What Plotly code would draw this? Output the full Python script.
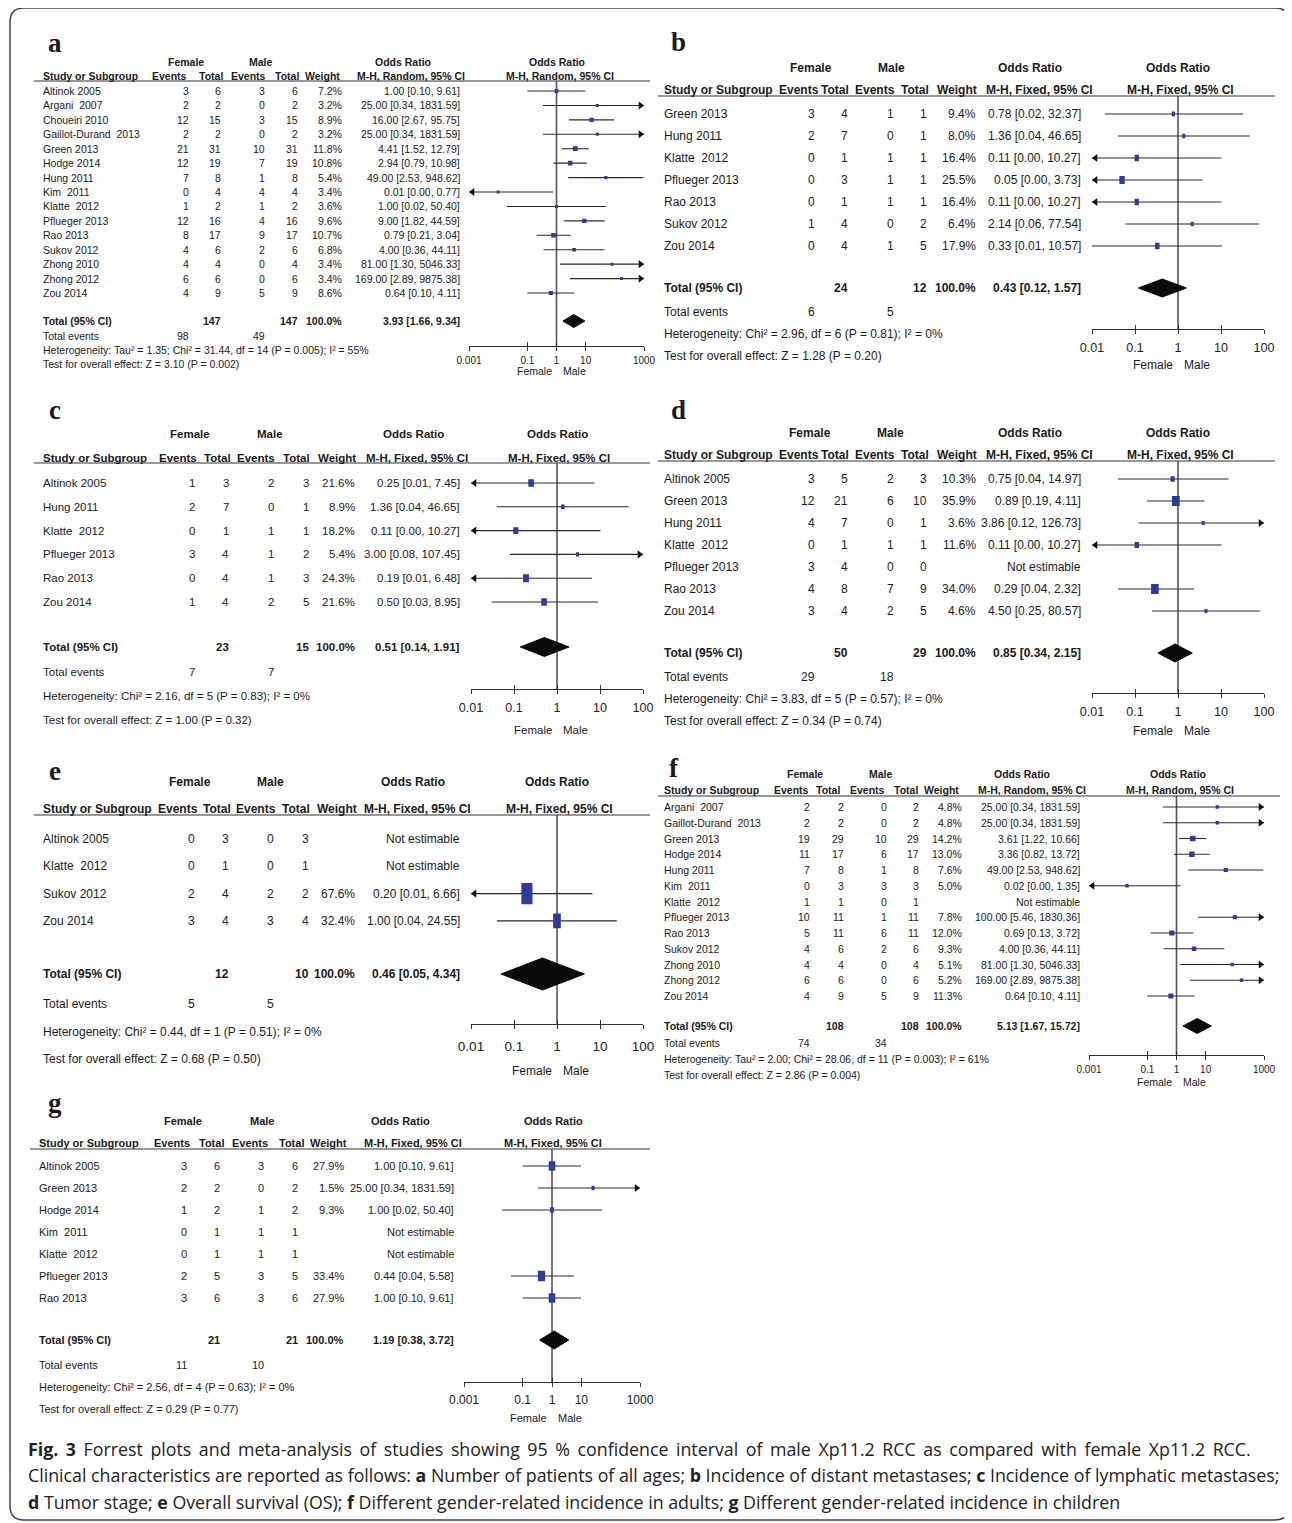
import plotly.graph_objects as go

W, H = 1292, 1523
OFF = 8                      # page body margin of the html page
WF, HF = W - OFF, H - OFF    # figure size so that it ends at the window edge
TEXT = "#1a1a1a"
BLUE = "#2e3a9e"
LINE = "#333333"
ARIAL = "Liberation Sans, Arial, sans-serif"
SERIF = "Liberation Serif, DejaVu Serif, serif"
CAPFONT = "Open Sans, Noto Sans, sans-serif"
NULL_OR = 1.0

# ---------------- data: panel a ----------------
A_STUDY = ["Altinok 2005", "Argani  2007", "Choueiri 2010", "Gaillot-Durand  2013", "Green 2013",
           "Hodge 2014", "Hung 2011", "Kim  2011", "Klatte  2012", "Pflueger 2013", "Rao 2013",
           "Sukov 2012", "Zhong 2010", "Zhong 2012", "Zou 2014"]
A_FE = [3, 2, 12, 2, 21, 12, 7, 0, 1, 12, 8, 4, 4, 6, 4]
A_FT = [6, 2, 15, 2, 31, 19, 8, 4, 2, 16, 17, 6, 4, 6, 9]
A_ME = [3, 0, 3, 0, 10, 7, 1, 4, 1, 4, 9, 2, 0, 0, 5]
A_MT = [6, 2, 15, 2, 31, 19, 8, 4, 2, 16, 17, 6, 4, 6, 9]
A_W = [7.2, 3.2, 8.9, 3.2, 11.8, 10.8, 5.4, 3.4, 3.6, 9.6, 10.7, 6.8, 3.4, 3.4, 8.6]
A_OR = [1.00, 25.00, 16.00, 25.00, 4.41, 2.94, 49.00, 0.01, 1.00, 9.00, 0.79, 4.00, 81.00, 169.00, 0.64]
A_LO = [0.10, 0.34, 2.67, 0.34, 1.52, 0.79, 2.53, 0.0004, 0.02, 1.82, 0.21, 0.36, 1.30, 2.89, 0.10]
A_HI = [9.61, 1831.59, 95.75, 1831.59, 12.79, 10.98, 948.62, 0.77, 50.40, 44.59, 3.04, 44.11, 5046.33, 9875.38, 4.11]
A_TOTAL = [147, 147]
A_EVENTS = [98, 49]
A_POOLED = [3.93, 1.66, 9.34]
A_HET = "Heterogeneity: Tau² = 1.35; Chi² = 31.44, df = 14 (P = 0.005); I² = 55%"
A_TEST = "Test for overall effect: Z = 3.10 (P = 0.002)"

# ---------------- data: panel b ----------------
B_STUDY = ["Green 2013", "Hung 2011", "Klatte  2012", "Pflueger 2013", "Rao 2013", "Sukov 2012", "Zou 2014"]
B_FE = [3, 2, 0, 0, 0, 1, 0]
B_FT = [4, 7, 1, 3, 1, 4, 4]
B_ME = [1, 0, 1, 1, 1, 0, 1]
B_MT = [1, 1, 1, 1, 1, 2, 5]
B_W = [9.4, 8.0, 16.4, 25.5, 16.4, 6.4, 17.9]
B_OR = [0.78, 1.36, 0.11, 0.05, 0.11, 2.14, 0.33]
B_LO = [0.02, 0.04, 0.004, 0.002, 0.004, 0.06, 0.01]
B_HI = [32.37, 46.65, 10.27, 3.73, 10.27, 77.54, 10.57]
B_TOTAL = [24, 12]
B_EVENTS = [6, 5]
B_POOLED = [0.43, 0.12, 1.57]
B_HET = "Heterogeneity: Chi² = 2.96, df = 6 (P = 0.81); I² = 0%"
B_TEST = "Test for overall effect: Z = 1.28 (P = 0.20)"

# ---------------- data: panel c ----------------
C_STUDY = ["Altinok 2005", "Hung 2011", "Klatte  2012", "Pflueger 2013", "Rao 2013", "Zou 2014"]
C_FE = [1, 2, 0, 3, 0, 1]
C_FT = [3, 7, 1, 4, 4, 4]
C_ME = [2, 0, 1, 1, 1, 2]
C_MT = [3, 1, 1, 2, 3, 5]
C_W = [21.6, 8.9, 18.2, 5.4, 24.3, 21.6]
C_OR = [0.25, 1.36, 0.11, 3.00, 0.19, 0.50]
C_LO = [0.0084, 0.04, 0.004, 0.08, 0.0065, 0.03]
C_HI = [7.45, 46.65, 10.27, 107.45, 6.48, 8.95]
C_TOTAL = [23, 15]
C_EVENTS = [7, 7]
C_POOLED = [0.51, 0.14, 1.91]
C_HET = "Heterogeneity: Chi² = 2.16, df = 5 (P = 0.83); I² = 0%"
C_TEST = "Test for overall effect: Z = 1.00 (P = 0.32)"

# ---------------- data: panel d ----------------
D_STUDY = ["Altinok 2005", "Green 2013", "Hung 2011", "Klatte  2012", "Pflueger 2013", "Rao 2013", "Zou 2014"]
D_FE = [3, 12, 4, 0, 3, 4, 3]
D_FT = [5, 21, 7, 1, 4, 8, 4]
D_ME = [2, 6, 0, 1, 0, 7, 2]
D_MT = [3, 10, 1, 1, 0, 9, 5]
D_W = [10.3, 35.9, 3.6, 11.6, None, 34.0, 4.6]
D_OR = [0.75, 0.89, 3.86, 0.11, None, 0.29, 4.50]
D_LO = [0.04, 0.19, 0.12, 0.004, None, 0.04, 0.25]
D_HI = [14.97, 4.11, 126.73, 10.27, None, 2.32, 80.57]
D_TOTAL = [50, 29]
D_EVENTS = [29, 18]
D_POOLED = [0.85, 0.34, 2.15]
D_HET = "Heterogeneity: Chi² = 3.83, df = 5 (P = 0.57); I² = 0%"
D_TEST = "Test for overall effect: Z = 0.34 (P = 0.74)"

# ---------------- data: panel e ----------------
E_STUDY = ["Altinok 2005", "Klatte  2012", "Sukov 2012", "Zou 2014"]
E_FE = [0, 0, 2, 3]
E_FT = [3, 1, 4, 4]
E_ME = [0, 0, 2, 3]
E_MT = [3, 1, 2, 4]
E_W = [None, None, 67.6, 32.4]
E_OR = [None, None, 0.20, 1.00]
E_LO = [None, None, 0.006, 0.04]
E_HI = [None, None, 6.66, 24.55]
E_TOTAL = [12, 10]
E_EVENTS = [5, 5]
E_POOLED = [0.46, 0.05, 4.34]
E_HET = "Heterogeneity: Chi² = 0.44, df = 1 (P = 0.51); I² = 0%"
E_TEST = "Test for overall effect: Z = 0.68 (P = 0.50)"

# ---------------- data: panel f ----------------
F_STUDY = ["Argani  2007", "Gaillot-Durand  2013", "Green 2013", "Hodge 2014", "Hung 2011", "Kim  2011",
           "Klatte  2012", "Pflueger 2013", "Rao 2013", "Sukov 2012", "Zhong 2010", "Zhong 2012", "Zou 2014"]
F_FE = [2, 2, 19, 11, 7, 0, 1, 10, 5, 4, 4, 6, 4]
F_FT = [2, 2, 29, 17, 8, 3, 1, 11, 11, 6, 4, 6, 9]
F_ME = [0, 0, 10, 6, 1, 3, 0, 1, 6, 2, 0, 0, 5]
F_MT = [2, 2, 29, 17, 8, 3, 1, 11, 11, 6, 4, 6, 9]
F_W = [4.8, 4.8, 14.2, 13.0, 7.6, 5.0, None, 7.8, 12.0, 9.3, 5.1, 5.2, 11.3]
F_OR = [25.00, 25.00, 3.61, 3.36, 49.00, 0.02, None, 100.00, 0.69, 4.00, 81.00, 169.00, 0.64]
F_LO = [0.34, 0.34, 1.22, 0.82, 2.53, 0.0003, None, 5.46, 0.13, 0.36, 1.30, 2.89, 0.10]
F_HI = [1831.59, 1831.59, 10.66, 13.72, 948.62, 1.35, None, 1830.36, 3.72, 44.11, 5046.33, 9875.38, 4.11]
F_TOTAL = [108, 108]
F_EVENTS = [74, 34]
F_POOLED = [5.13, 1.67, 15.72]
F_HET = "Heterogeneity: Tau² = 2.00; Chi² = 28.06, df = 11 (P = 0.003); I² = 61%"
F_TEST = "Test for overall effect: Z = 2.86 (P = 0.004)"

# ---------------- data: panel g ----------------
G_STUDY = ["Altinok 2005", "Green 2013", "Hodge 2014", "Kim  2011", "Klatte  2012", "Pflueger 2013", "Rao 2013"]
G_FE = [3, 2, 1, 0, 0, 2, 3]
G_FT = [6, 2, 2, 1, 1, 5, 6]
G_ME = [3, 0, 1, 1, 1, 3, 3]
G_MT = [6, 2, 2, 1, 1, 5, 6]
G_W = [27.9, 1.5, 9.3, None, None, 33.4, 27.9]
G_OR = [1.00, 25.00, 1.00, None, None, 0.44, 1.00]
G_LO = [0.10, 0.34, 0.02, None, None, 0.04, 0.10]
G_HI = [9.61, 1831.59, 50.40, None, None, 5.58, 9.61]
G_TOTAL = [21, 21]
G_EVENTS = [11, 10]
G_POOLED = [1.19, 0.38, 3.72]
G_HET = "Heterogeneity: Chi² = 2.56, df = 4 (P = 0.63); I² = 0%"
G_TEST = "Test for overall effect: Z = 0.29 (P = 0.77)"

TICKS_3 = [0.001, 0.1, 1, 10, 1000]
TICKTEXT_3 = ["0.001", "0.1", "1", "10", "1000"]
TICKS_2 = [0.01, 0.1, 1, 10, 100]
TICKTEXT_2 = ["0.01", "0.1", "1", "10", "100"]

CAPTION = [
    "<b>Fig. 3</b> Forrest plots and meta-analysis of studies showing 95 % confidence interval of male Xp11.2 RCC as compared with female Xp11.2 RCC.",
    "Clinical characteristics are reported as follows: <b>a</b> Number of patients of all ages; <b>b</b> Incidence of distant metastases; <b>c</b> Incidence of lymphatic metastases;",
    "<b>d</b> Tumor stage; <b>e</b> Overall survival (OS); <b>f</b> Different gender-related incidence in adults; <b>g</b> Different gender-related incidence in children",
]
CAPTION_JUSTIFY = [True, False, False]   # first line is justified (wider word gaps) in the reference


def pack(study, fe, ft, me, mt, w, orr, lo, hi, total, events, pooled, het, test):
    return dict(study=study, fe=fe, ft=ft, me=me, mt=mt, w=w, orr=orr, lo=lo, hi=hi,
                total=total, events=events, pooled=pooled, het=het, test=test)


DATA = {
    "a": pack(A_STUDY, A_FE, A_FT, A_ME, A_MT, A_W, A_OR, A_LO, A_HI, A_TOTAL, A_EVENTS, A_POOLED, A_HET, A_TEST),
    "b": pack(B_STUDY, B_FE, B_FT, B_ME, B_MT, B_W, B_OR, B_LO, B_HI, B_TOTAL, B_EVENTS, B_POOLED, B_HET, B_TEST),
    "c": pack(C_STUDY, C_FE, C_FT, C_ME, C_MT, C_W, C_OR, C_LO, C_HI, C_TOTAL, C_EVENTS, C_POOLED, C_HET, C_TEST),
    "d": pack(D_STUDY, D_FE, D_FT, D_ME, D_MT, D_W, D_OR, D_LO, D_HI, D_TOTAL, D_EVENTS, D_POOLED, D_HET, D_TEST),
    "e": pack(E_STUDY, E_FE, E_FT, E_ME, E_MT, E_W, E_OR, E_LO, E_HI, E_TOTAL, E_EVENTS, E_POOLED, E_HET, E_TEST),
    "f": pack(F_STUDY, F_FE, F_FT, F_ME, F_MT, F_W, F_OR, F_LO, F_HI, F_TOTAL, F_EVENTS, F_POOLED, F_HET, F_TEST),
    "g": pack(G_STUDY, G_FE, G_FT, G_ME, G_MT, G_W, G_OR, G_LO, G_HI, G_TOTAL, G_EVENTS, G_POOLED, G_HET, G_TEST),
}

# ---------------- layout (pixel positions in the reference picture) ----------------
LAYOUTS = [
    dict(key="a", label_xy=(55, 43), size=10.5, left=42, rule_x=(34, 650), rule_y=81, hy1=62, hy2=76,
         h1=[186, 261, 403, 557], h2=[170, 211, 248, 287, 322, 411, 560], cols=[190, 222, 266, 299, 343, 461],
         row0=91, step=14.43, total_y=321, events_y=336, het_y=350, test_y=364,
         gx=(469, 644), rng=(-3, 3), axis_y=346, tickvals=TICKS_3, ticktext=TICKTEXT_3, tick_size=10, fm_y=371,
         sq_k=1.4, sq_aspect=1.0, sq_min=3, dia_h=13, method="M-H, Random, 95% CI", standoff=1),
    dict(key="b", label_xy=(678, 42), size=12, left=663, rule_x=(658, 1275), rule_y=96, hy1=68, hy2=90,
         h1=[811, 891, 1030, 1178], h2=[799, 835, 875, 915, 957, 1039, 1180], cols=[816, 849, 895, 928, 977, 1082],
         row0=114, step=22, total_y=288, events_y=312, het_y=334, test_y=356,
         gx=(1092, 1264), rng=(-2, 2), axis_y=329, tickvals=TICKS_2, ticktext=TICKTEXT_2, tick_size=12.5, fm_y=365,
         sq_k=1.05, sq_aspect=1.5, sq_min=3, dia_h=18, method="M-H, Fixed, 95% CI", standoff=3),
    dict(key="c", label_xy=(55, 410), size=11.5, left=42, rule_x=(34, 650), rule_y=463, hy1=434, hy2=458,
         h1=[190, 270, 413, 557], h2=[178, 217, 256, 296, 337, 417, 559], cols=[196, 230, 275, 310, 356, 461],
         row0=483, step=23.8, total_y=647, events_y=672, het_y=696, test_y=720,
         gx=(471, 643), rng=(-2, 2), axis_y=689, tickvals=TICKS_2, ticktext=TICKTEXT_2, tick_size=12.5, fm_y=730,
         sq_k=1.2, sq_aspect=1.35, sq_min=3, dia_h=19, method="M-H, Fixed, 95% CI", standoff=3),
    dict(key="d", label_xy=(678, 410), size=12, left=663, rule_x=(658, 1275), rule_y=461, hy1=433, hy2=455,
         h1=[810, 890, 1030, 1178], h2=[799, 835, 875, 915, 957, 1039, 1180], cols=[816, 849, 895, 928, 977, 1082],
         row0=479, step=22, total_y=653, events_y=677, het_y=699, test_y=721,
         gx=(1092, 1264), rng=(-2, 2), axis_y=693, tickvals=TICKS_2, ticktext=TICKTEXT_2, tick_size=12.5, fm_y=731,
         sq_k=1.3, sq_aspect=1.3, sq_min=3, dia_h=18, method="M-H, Fixed, 95% CI", standoff=3),
    dict(key="e", label_xy=(55, 771), size=12, left=42, rule_x=(34, 650), rule_y=815, hy1=782, hy2=809,
         h1=[190, 270, 413, 557], h2=[178, 217, 256, 296, 337, 417, 559], cols=[196, 230, 275, 310, 356, 461],
         row0=839, step=27.3, total_y=974, events_y=1004, het_y=1032, test_y=1059,
         gx=(471, 643), rng=(-2, 2), axis_y=1024, tickvals=TICKS_2, ticktext=TICKTEXT_2, tick_size=13.5, fm_y=1071,
         sq_k=1.35, sq_aspect=1.9, sq_min=3, dia_h=32, method="M-H, Fixed, 95% CI", standoff=6),
    dict(key="f", label_xy=(674, 768), size=10.5, left=663, rule_x=(658, 1280), rule_y=796, hy1=774, hy2=790,
         h1=[805, 881, 1022, 1178], h2=[791, 828, 867, 906, 941, 1032, 1180], cols=[811, 845, 888, 920, 963, 1081],
         row0=807, step=15.75, total_y=1026, events_y=1043, het_y=1059, test_y=1075,
         gx=(1089, 1264), rng=(-3, 3), axis_y=1055, tickvals=TICKS_3, ticktext=TICKTEXT_3, tick_size=10, fm_y=1082,
         sq_k=1.5, sq_aspect=1.0, sq_min=3, dia_h=15, method="M-H, Random, 95% CI", standoff=1),
    dict(key="g", label_xy=(55, 1103), size=11, left=38, rule_x=(30, 650), rule_y=1149, hy1=1121, hy2=1143,
         h1=[183, 262, 400, 553], h2=[172, 211, 250, 291, 328, 413, 553], cols=[188, 221, 265, 299, 345, 455],
         row0=1166, step=22, total_y=1340, events_y=1365, het_y=1387, test_y=1409,
         gx=(464, 640), rng=(-3, 3), axis_y=1382, tickvals=TICKS_3, ticktext=TICKTEXT_3, tick_size=12, fm_y=1418,
         sq_k=1.25, sq_aspect=1.45, sq_min=3, dia_h=18, method="M-H, Fixed, 95% CI", standoff=2),
]


def fx(x):
    return (x - OFF) / WF


def fy(y):
    return 1 - (y - OFF) / HF


fig = go.Figure()
annotations = []
shapes = []
axes = {}


def text(x, y, s, family, size, anchor="left", color=TEXT):
    annotations.append(dict(x=fx(x), y=fy(y), xref="paper", yref="paper", text=s, showarrow=False,
                            xanchor=anchor, yanchor="middle", borderpad=0,
                            font=dict(family=family, size=size, color=color)))


def fmt_ci(o, l, h):
    return f"{o:.2f} [{l:.2f}, {h:.2f}]"


def add_panel(n, L):
    d = DATA[L["key"]]
    xs = "x" if n == 1 else f"x{n}"
    ys = "y" if n == 1 else f"y{n}"
    xk = "xaxis" if n == 1 else f"xaxis{n}"
    yk = "yaxis" if n == 1 else f"yaxis{n}"
    fam, fs = ARIAL, L["size"]
    lo_lim, hi_lim = 10 ** L["rng"][0], 10 ** L["rng"][1]
    ppd = (L["gx"][1] - L["gx"][0]) / (L["rng"][1] - L["rng"][0])
    step = L["step"]

    def rv(p):
        return (p - L["row0"]) / step

    text(L["label_xy"][0], L["label_xy"][1], f"<b>{L['key']}</b>", SERIF, 27, "center")
    h1, h2 = L["h1"], L["h2"]
    for cx, s in zip(h1, ["Female", "Male", "Odds Ratio", "Odds Ratio"]):
        text(cx, L["hy1"], f"<b>{s}</b>", fam, fs, "center")
    text(L["left"], L["hy2"], "<b>Study or Subgroup</b>", fam, fs, "left")
    for cx, s in zip(h2, ["Events", "Total", "Events", "Total", "Weight", L["method"], L["method"]]):
        text(cx, L["hy2"], f"<b>{s}</b>", fam, fs, "center")
    shapes.append(dict(type="line", xref="paper", yref="paper", x0=fx(L["rule_x"][0]), x1=fx(L["rule_x"][1]),
                       y0=fy(L["rule_y"]), y1=fy(L["rule_y"]), line=dict(color=LINE, width=1.2)))
    cols = L["cols"]
    for i, st in enumerate(d["study"]):
        y = L["row0"] + i * step
        text(L["left"], y, st, fam, fs, "left")
        for j, key in enumerate(["fe", "ft", "me", "mt"]):
            text(cols[j], y, str(d[key][i]), fam, fs, "right")
        if d["w"][i] is not None:
            text(cols[4], y, f"{d['w'][i]:.1f}%", fam, fs, "right")
            text(cols[5], y, fmt_ci(d["orr"][i], d["lo"][i], d["hi"][i]), fam, fs, "right")
        else:
            text(cols[5], y, "Not estimable", fam, fs, "right")
    text(L["left"], L["total_y"], "<b>Total (95% CI)</b>", fam, fs, "left")
    text(cols[1], L["total_y"], f"<b>{d['total'][0]}</b>", fam, fs, "right")
    text(cols[3], L["total_y"], f"<b>{d['total'][1]}</b>", fam, fs, "right")
    text(cols[4], L["total_y"], "<b>100.0%</b>", fam, fs, "right")
    text(cols[5], L["total_y"], "<b>" + fmt_ci(*d["pooled"]) + "</b>", fam, fs, "right")
    text(L["left"], L["events_y"], "Total events", fam, fs, "left")
    text(cols[0], L["events_y"], str(d["events"][0]), fam, fs, "right")
    text(cols[2], L["events_y"], str(d["events"][1]), fam, fs, "right")
    text(L["left"], L["het_y"], d["het"], fam, fs, "left")
    text(L["left"], L["test_y"], d["test"], fam, fs, "left")

    axes[xk] = dict(domain=[fx(L["gx"][0]), fx(L["gx"][1])], type="log", range=list(L["rng"]), anchor=ys,
                    showline=True, linecolor=LINE, linewidth=1.2, ticks="outside", ticklen=4, tickwidth=1.2,
                    tickcolor=LINE, tickvals=L["tickvals"], ticktext=L["ticktext"], ticklabelstandoff=L["standoff"],
                    tickfont=dict(family=fam, size=L["tick_size"], color=TEXT), showgrid=False, zeroline=False,
                    fixedrange=True, automargin=False)
    axes[yk] = dict(domain=[fy(L["axis_y"]), fy(L["rule_y"])], range=[rv(L["axis_y"]), rv(L["rule_y"])],
                    visible=False, fixedrange=True, automargin=False)
    ok = f"xaxis{n + 7}"
    axes[ok] = dict(type="log", range=list(L["rng"]), overlaying=xs, anchor=ys, showline=False, ticks="inside",
                    ticklen=4, tickwidth=1.2, tickcolor=LINE, tickvals=L["tickvals"], showticklabels=False,
                    showgrid=False, zeroline=False, fixedrange=True, automargin=False,
                    domain=[fx(L["gx"][0]), fx(L["gx"][1])])
    fig.add_trace(go.Scatter(x=[NULL_OR], y=[None], mode="markers", xaxis=f"x{n + 7}", yaxis=ys,
                             marker=dict(opacity=0), hoverinfo="skip", showlegend=False))

    annotations.append(dict(x=0, y=fy(L["fm_y"]), xref=xs, yref="paper", text="Female", showarrow=False,
                            xanchor="right", yanchor="middle", xshift=-3, font=dict(family=fam, size=fs, color=TEXT)))
    annotations.append(dict(x=0, y=fy(L["fm_y"]), xref=xs, yref="paper", text="Male", showarrow=False,
                            xanchor="left", yanchor="middle", xshift=4, font=dict(family=fam, size=fs, color=TEXT)))

    fig.add_trace(go.Scatter(x=[NULL_OR, NULL_OR], y=[rv(L["rule_y"]), rv(L["axis_y"])], mode="lines",
                             line=dict(color="#555555", width=1.6), xaxis=xs, yaxis=ys,
                             hoverinfo="skip", showlegend=False))
    lx, ly, axl, ayl, axr, ayr, bx, by = [], [], [], [], [], [], [], []
    arrow_sz = 7
    shift = 10 ** ((arrow_sz / 2) / ppd)
    for i, (o, l, h, w) in enumerate(zip(d["orr"], d["lo"], d["hi"], d["w"])):
        if o is None:
            continue
        lx += [max(l, lo_lim), min(h, hi_lim), None]
        ly += [i, i, None]
        if l < lo_lim:
            axl.append(lo_lim * shift)
            ayl.append(i)
        if h > hi_lim:
            axr.append(hi_lim / shift)
            ayr.append(i)
        wp = max(L["sq_min"], L["sq_k"] * w ** 0.5)
        hp = wp * L["sq_aspect"]
        hw = 10 ** ((wp / 2) / ppd)
        hh = (hp / 2) / step
        bx += [o / hw, o * hw, o * hw, o / hw, o / hw, None]
        by += [i - hh, i - hh, i + hh, i + hh, i - hh, None]
    fig.add_trace(go.Scatter(x=lx, y=ly, mode="lines", line=dict(color="#2a2a2a", width=1.1),
                             xaxis=xs, yaxis=ys, hoverinfo="skip", showlegend=False))
    if axl:
        fig.add_trace(go.Scatter(x=axl, y=ayl, mode="markers", marker=dict(symbol="triangle-left", size=arrow_sz,
                                 color="#111111"), xaxis=xs, yaxis=ys, hoverinfo="skip", showlegend=False,
                                 cliponaxis=False))
    if axr:
        fig.add_trace(go.Scatter(x=axr, y=ayr, mode="markers", marker=dict(symbol="triangle-right", size=arrow_sz,
                                 color="#111111"), xaxis=xs, yaxis=ys, hoverinfo="skip", showlegend=False,
                                 cliponaxis=False))
    fig.add_trace(go.Scatter(x=bx, y=by, mode="lines", fill="toself", fillcolor=BLUE, line=dict(width=0, color=BLUE),
                             xaxis=xs, yaxis=ys, hoverinfo="skip", showlegend=False))
    po, pl, ph = d["pooled"]
    yt = rv(L["total_y"])
    dh = (L["dia_h"] / 2) / step
    fig.add_trace(go.Scatter(x=[pl, po, ph, po, pl], y=[yt, yt - dh, yt, yt + dh, yt], mode="lines", fill="toself",
                             fillcolor="#0a0a0a", line=dict(width=1, color="#0a0a0a"),
                             xaxis=xs, yaxis=ys, hoverinfo="skip", showlegend=False))


for n, L in enumerate(LAYOUTS, start=1):
    add_panel(n, L)

for line, y, just in zip(CAPTION, [1449, 1475, 1502], CAPTION_JUSTIFY):
    s = line.replace(" ", " \u2009") if just else line
    text(27, y, s, CAPFONT, 17.8, "left", color="#222222")

x0, y0, x1, y1, r = 10, 8, 1289, 1520, 14
path = (f"M {fx(x0 + r)},{fy(y0)} L {fx(x1 - r)},{fy(y0)} Q {fx(x1)},{fy(y0)} {fx(x1)},{fy(y0 + r)} "
        f"L {fx(x1)},{fy(y1 - r)} Q {fx(x1)},{fy(y1)} {fx(x1 - r)},{fy(y1)} "
        f"L {fx(x0 + r)},{fy(y1)} Q {fx(x0)},{fy(y1)} {fx(x0)},{fy(y1 - r)} "
        f"L {fx(x0)},{fy(y0 + r)} Q {fx(x0)},{fy(y0)} {fx(x0 + r)},{fy(y0)} Z")
shapes.append(dict(type="path", xref="paper", yref="paper", path=path, line=dict(color="#444444", width=1.5)))

fig.update_layout(width=WF, height=HF, margin=dict(l=0, r=0, t=0, b=0, pad=0, autoexpand=False),
                  paper_bgcolor="white", plot_bgcolor="rgba(0,0,0,0)", showlegend=False,
                  annotations=annotations, shapes=shapes, **axes)
fig.write_html("out.html")
